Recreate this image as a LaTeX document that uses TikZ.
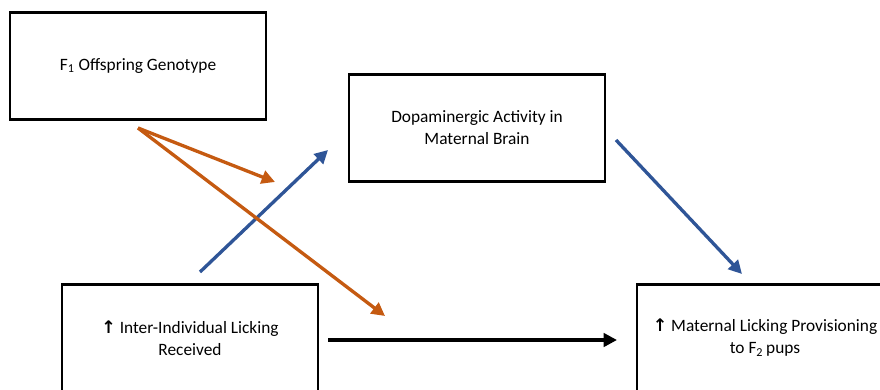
\documentclass[tikz,border=0pt]{standalone}
\usepackage{fontspec}
\setmainfont{Carlito}
\newfontfamily\symfont{DejaVu Sans}
\usetikzlibrary{arrows.meta}
\definecolor{paorange}{RGB}{197,90,17}
\definecolor{pablue}{RGB}{47,85,151}
\newcommand{\upmark}{{\symfont\bfseries ↑}}
\begin{document}
\begin{tikzpicture}[x=0.75pt,y=-0.75pt,
    factor/.style={draw,line width=1.9pt,minimum width=192pt,minimum height=80pt,
        align=center,font=\fontsize{13}{16.5}\selectfont},
    path/.style={line width=2.5pt,-{Triangle[length=10pt,width=10pt]}}]
    \useasboundingbox (0,0) rectangle (880,389);
    \clip (0,0) rectangle (880,389);
    \node [factor] (geno) at (138,66) {F\textsubscript{1} Offspring Genotype};
    \node [factor] (dopa) at (477,128) {Dopaminergic Activity in\\Maternal Brain};
    \node [factor] (lick) at (190,338) {\upmark\ Inter-Individual Licking\\Received};
    \node [factor] (prov) at (765,338) {\upmark\ Maternal Licking Provisioning\\to F\textsubscript{2}\,pups};
    \coordinate (genoOut) at (138,128);
    \coordinate (modDopa) at (275,182);
    \coordinate (modDirect) at (385,316);
    \coordinate (lickOut) at (200,272);
    \coordinate (dopaIn) at (328,150);
    \coordinate (dopaOut) at (616,140);
    \coordinate (provIn) at (742,274);
    \coordinate (lickRight) at (328,340);
    \coordinate (provLeft) at (617,340);
    \draw [path,pablue] (lickOut)--(dopaIn);
    \draw [path,paorange] (genoOut)--(modDopa);
    \draw [path,paorange] (genoOut)--(modDirect);
    \draw [path,pablue] (dopaOut)--(provIn);
    \draw [path,black] (lickRight)--(provLeft);
\end{tikzpicture}
\end{document}
